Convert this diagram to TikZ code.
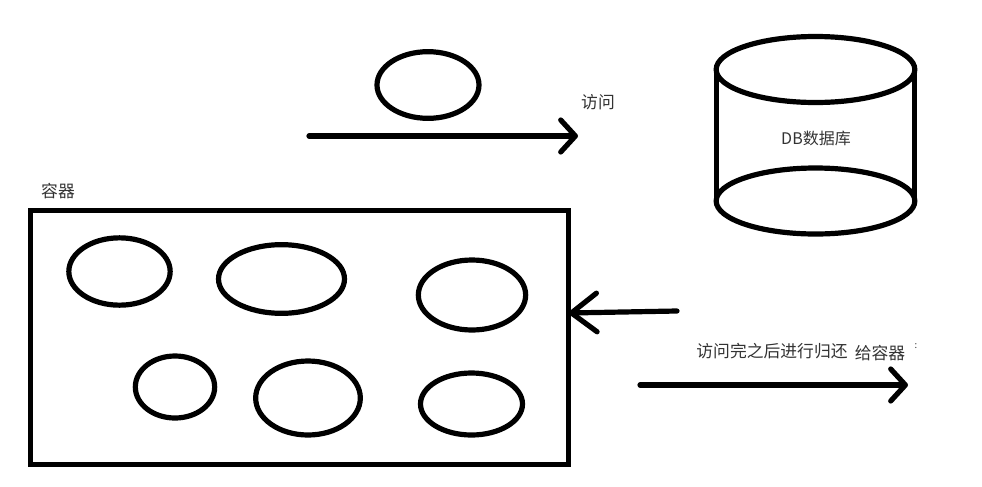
\documentclass[tikz,border=0pt]{standalone}
\usepackage{fontspec}
\setmainfont{Noto Sans CJK SC}
\usetikzlibrary{shapes.geometric,arrows.meta}
\begin{document}
\begin{tikzpicture}[x=0.75pt, y=-0.75pt, line width=3.9pt, >={Straight Barb[length=11pt, width=24pt, round]}]
    \tikzstyle{conn}=[draw, ellipse, inner sep=0pt, outer sep=0pt]
    \tikzstyle{flow}=[->, line cap=round]
    \tikzstyle{lbl}=[inner sep=0pt, font=\fontsize{12.6pt}{14pt}\selectfont, text=black!80]

    \useasboundingbox (0,0) rectangle (982,486);

    \node[conn, minimum width=76.5pt, minimum height=50pt] (active) at (428,85) {};
    \coordinate (accessstart) at (309,136);
    \coordinate (accessend) at (578,136);
    \draw[flow] (accessstart) -- (accessend);
    \node[lbl] (accesslbl) at (598,102) {访问};

    \node[conn, minimum width=149pt, minimum height=49.5pt] (dbtop) at (815.5,69.5) {};
    \node[conn, minimum width=149pt, minimum height=49.5pt] (dbbottom) at (815.5,201) {};
    \draw (dbtop.west) -- (dbbottom.west);
    \draw (dbtop.east) -- (dbbottom.east);
    \node[lbl, font=\fontsize{12pt}{14pt}\selectfont] (dblbl) at (816,138) {DB数据库};

    \node[lbl] (poollbl) at (58,191) {容器};
    \node[draw, inner sep=0pt, outer sep=0pt, minimum width=404pt, minimum height=191pt] (pool) at (299.5,337.5) {};

    \node[conn, minimum width=76pt, minimum height=50.5pt] (connA) at (119.5,271.5) {};
    \node[conn, minimum width=94.5pt, minimum height=51.5pt] (connB) at (281.5,279) {};
    \node[conn, minimum width=80.5pt, minimum height=52.5pt] (connC) at (472,295) {};
    \node[conn, minimum width=59.5pt, minimum height=46.5pt] (connD) at (175,387) {};
    \node[conn, minimum width=78.5pt, minimum height=55.5pt] (connE) at (308,398) {};
    \node[conn, minimum width=76.5pt, minimum height=46.5pt] (connF) at (471.5,404) {};

    \coordinate (returnstart) at (677,311);
    \draw[flow, >={Straight Barb[length=19pt, width=29pt, round]}] (returnstart) -- (pool.east |- 0,313);

    \node[lbl] (returnlbl) at (772,351) {访问完之后进行归还};
    \node[lbl] (givelbl) at (880,353) {给容器};
    \node[lbl, font=\fontsize{7pt}{8pt}\selectfont] (colonlbl) at (916,346) {:};

    \coordinate (backstart) at (640,385);
    \coordinate (backend) at (908,385);
    \draw[flow] (backstart) -- (backend);
\end{tikzpicture}
\end{document}
